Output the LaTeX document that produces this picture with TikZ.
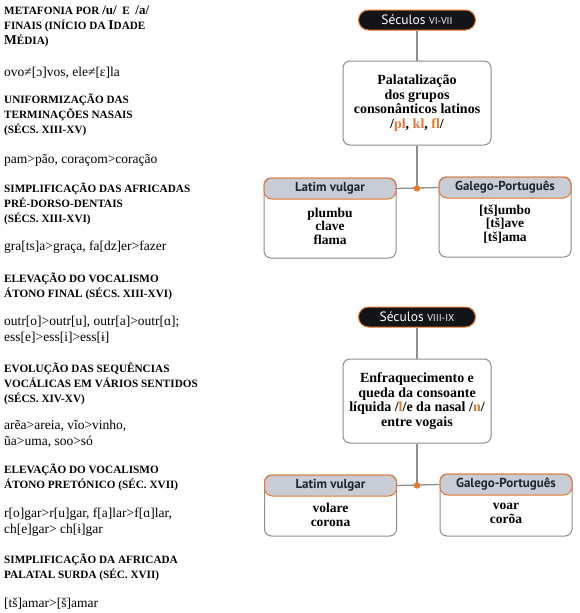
\documentclass[tikz,border=0pt]{standalone}
\usepackage{fontspec}
\setmainfont{Liberation Serif}
\newfontfamily\hsans{PT Sans}
\definecolor{orng}{HTML}{E8772E}
\definecolor{lgray}{HTML}{8E8E8E}
\definecolor{hdfill}{HTML}{C7CCD5}
\definecolor{hdtext}{HTML}{1E2633}
\definecolor{pillblk}{HTML}{121418}
\newcommand\bigc[1]{{\fontsize{13.5}{14}\selectfont #1}}
\newcommand\og[1]{\textcolor{orng}{#1}}
\newcommand\tightls{\lineskiplimit-20pt\relax}

\begin{document}
\begin{tikzpicture}[x=1pt,y=-1pt,
  lhead/.style={anchor=base west, align=left, inner sep=0pt, font={\bfseries\fontsize{11.2}{14.8}\selectfont\tightls}},
  lbody/.style={anchor=base west, align=left, inner sep=0pt, font={\fontsize{13.5}{15.5}\selectfont\tightls}},
  pill/.style={draw=orng, fill=pillblk, line width=1pt, rounded corners=10pt, minimum width=117pt, minimum height=20pt, inner sep=0pt, text=white, font=\hsans\fontsize{13.5}{14}\selectfont},
  mainbox/.style={draw=lgray, line width=1pt, rounded corners=7pt, minimum width=148pt, minimum height=84pt, align=center, font={\bfseries\fontsize{14}{14.7}\selectfont\tightls}},
  sidebox/.style={draw=lgray, line width=1pt, rounded corners=7pt, minimum width=132pt},
  hdr/.style={draw=orng, fill=hdfill, line width=1pt, rounded corners=8pt, minimum width=132pt, minimum height=21pt, inner sep=0pt, text=hdtext, font=\hsans\bfseries\fontsize{13}{14}\selectfont},
  sidetxt/.style={align=center, inner sep=0pt, font={\bfseries\fontsize{13.5}{13.6}\selectfont\tightls}},
  conn/.style={draw=lgray, line width=1.3pt}]
\useasboundingbox (0,0) rectangle (580,613);

% left column (base = last line)
\node[lhead] (h1) at (4,44) {METAFONIA POR {\fontsize{13}{14}\selectfont /u/}\enspace E\enspace{\fontsize{13}{14}\selectfont /a/}\\FINAIS (INÍCIO DA \bigc{I}DADE\\\bigc{M}ÉDIA)};
\node[lbody] (e1) at (4,76) {ovo≠[ɔ]vos, ele≠[ɛ]la};
\node[lhead] (h2) at (4,133) {UNIFORMIZAÇÃO DAS\\TERMINAÇÕES NASAIS\\(SÉCS. XIII-XV)};
\node[lbody] (e2) at (4,163) {pam>pão, coraçom>coração};
\node[lhead] (h3) at (4,222) {SIMPLIFICAÇÃO DAS AFRICADAS\\PRÉ-DORSO-DENTAIS\\(SÉCS. XIII-XVI)};
\node[lbody] (e3) at (4,250) {gra[ts]a>graça, fa[dz]er>fazer};
\node[lhead] (h4) at (4,297) {ELEVAÇÃO DO VOCALISMO\\ÁTONO FINAL (SÉCS. XIII-XVI)};
\node[lbody] (e4) at (4,341) {outr[o]>outr[u], outr[a]>outr[ɑ];\\ess[e]>ess[i]>ess[ɨ]};
\node[lhead] (h5) at (4,402) {EVOLUÇÃO DAS SEQUÊNCIAS\\VOCÁLICAS EM VÁRIOS SENTIDOS\\(SÉCS. XIV-XV)};
\node[lbody] (e5) at (4,445) {arẽa>areia, vĩo>vinho,\\ũa>uma, soo>só};
\node[lhead] (h6) at (4,488) {ELEVAÇÃO DO VOCALISMO\\ÁTONO PRETÓNICO (SÉC. XVII)};
\node[lbody] (e6) at (4,533) {r[o]gar>r[u]gar, f[a]lar>f[ɑ]lar,\\ch[e]gar> ch[ɨ]gar};
\node[lhead] (h7) at (4,578) {SIMPLIFICAÇÃO DA AFRICADA\\PALATAL SURDA (SÉC. XVII)};
\node[lbody] (e7) at (4,607) {[tš]amar>[š]amar};

% first group
\node[pill] (s1) at (417,20) {Séculos {\fontsize{10}{11}\selectfont VI-VII}};
\node[mainbox] (p1) at (417,103) {Palatalização\\dos grupos\\consonânticos latinos\\/\og{pl}, \og{kl}, \og{fl}/};
\node[sidebox, minimum height=80pt] (lv1) at (330,218) {};
\node[hdr, anchor=north] (lv1h) at (lv1.north) {Latim vulgar};
\node[sidetxt] (lv1t) at (330,226) {plumbu\\clave\\flama};
\node[sidebox, minimum height=80pt] (gp1) at (505,217) {};
\node[hdr, anchor=north] (gp1h) at (gp1.north) {Galego-Português};
\node[sidetxt] (gp1t) at (505,224) {[tš]umbo\\{}[tš]ave\\{}[tš]ama};
\coordinate (j1) at (p1.south |- lv1h.east);
\draw[conn] (s1.south) -- (p1.north);
\draw[conn] (p1.south) -- (j1);
\draw[conn] (lv1h.east) -- (gp1h.west);
\fill[orng] (j1) circle (3.2pt);

% second group
\node[pill] (s2) at (417,317) {Séculos {\fontsize{10}{11}\selectfont VIII-IX}};
\node[mainbox] (p2) at (417,401) {Enfraquecimento e\\queda da consoante\\líquida /\og{l}/e da nasal /\og{n}/\\entre vogais};
\node[sidebox, minimum height=61pt] (lv2) at (330.5,505.5) {};
\node[hdr, anchor=north] (lv2h) at (lv2.north) {Latim vulgar};
\node[sidetxt] (lv2t) at (330.5,515) {volare\\corona};
\node[sidebox, minimum height=62pt] (gp2) at (506,505) {};
\node[hdr, anchor=north] (gp2h) at (gp2.north) {Galego-Português};
\node[sidetxt] (gp2t) at (506,513.5) {voar\\corõa};
\coordinate (j2) at (p2.south |- lv2h.east);
\draw[conn] (s2.south) -- (p2.north);
\draw[conn] (p2.south) -- (j2);
\draw[conn] (lv2h.east) -- (gp2h.west);
\fill[orng] (j2) circle (3.2pt);
\end{tikzpicture}
\end{document}
